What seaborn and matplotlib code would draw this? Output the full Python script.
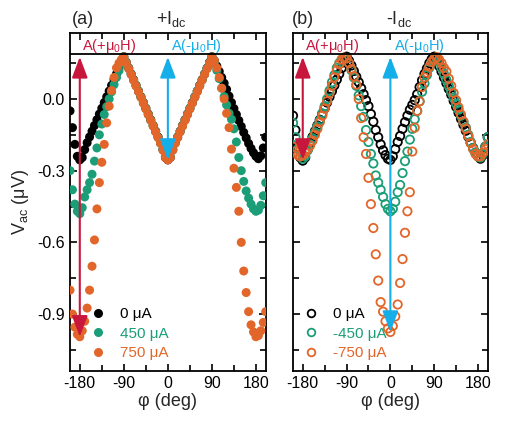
import numpy as np
import pandas as pd
import matplotlib
matplotlib.use("Agg")
import matplotlib.pyplot as plt
import seaborn as sns
from matplotlib.lines import Line2D
from matplotlib.ticker import MultipleLocator

# =========================
# Datos, phi cada 5 grados
# =========================
phi = list(range(-200, 201, 5))

# panel (a): +Idc
v_a_0 = [-0.05, -0.12, -0.19, -0.24, -0.255, -0.245, -0.212, -0.183, -0.159, -0.135,
         -0.111, -0.087, -0.063, -0.039, -0.015, 0.009, 0.033, 0.057, 0.081, 0.105,
         0.129, 0.153, 0.177, 0.153, 0.129, 0.105, 0.081, 0.057, 0.033, 0.009,
         -0.015, -0.039, -0.063, -0.087, -0.111, -0.135, -0.159, -0.183, -0.212, -0.245,
         -0.255, -0.245, -0.212, -0.183, -0.159, -0.135, -0.111, -0.087, -0.063, -0.039,
         -0.015, 0.009, 0.033, 0.057, 0.081, 0.105, 0.129, 0.153, 0.177, 0.160,
         0.138, 0.115, 0.090, 0.066, 0.040, 0.012, -0.015, -0.040, -0.065, -0.090,
         -0.115, -0.140, -0.163, -0.186, -0.207, -0.225, -0.240, -0.250, -0.238, -0.205,
         -0.160]
v_a_450 = [-0.30, -0.38, -0.44, -0.47, -0.48, -0.455, -0.41, -0.38, -0.35, -0.315,
           -0.26, -0.205, -0.15, -0.105, -0.065, -0.032, 0.0, 0.03, 0.06, 0.09,
           0.118, 0.148, 0.175, 0.152, 0.128, 0.104, 0.080, 0.056, 0.032, 0.008,
           -0.016, -0.040, -0.064, -0.088, -0.112, -0.136, -0.160, -0.184, -0.210, -0.240,
           -0.250, -0.240, -0.210, -0.184, -0.160, -0.136, -0.112, -0.088, -0.064, -0.040,
           -0.016, 0.008, 0.032, 0.056, 0.080, 0.104, 0.128, 0.152, 0.175, 0.150,
           0.120, 0.085, 0.045, 0.010, -0.025, -0.060, -0.085, -0.125, -0.180, -0.245,
           -0.300, -0.345, -0.385, -0.415, -0.440, -0.460, -0.470, -0.465, -0.445, -0.405,
           -0.350]
v_a_750 = [-0.80, -0.90, -0.955, -0.985, -0.995, -0.970, -0.930, -0.875, -0.800, -0.700,
           -0.590, -0.460, -0.350, -0.265, -0.190, -0.100, -0.030, 0.035, 0.090, 0.130,
           0.150, 0.165, 0.175, 0.150, 0.126, 0.102, 0.078, 0.054, 0.030, 0.006,
           -0.018, -0.042, -0.066, -0.090, -0.114, -0.138, -0.162, -0.186, -0.215, -0.245,
           -0.255, -0.245, -0.215, -0.186, -0.162, -0.138, -0.114, -0.090, -0.066, -0.042,
           -0.018, 0.006, 0.030, 0.054, 0.078, 0.102, 0.126, 0.150, 0.175, 0.160,
           0.130, 0.090, 0.045, 0.000, -0.060, -0.120, -0.210, -0.290, -0.370, -0.470,
           -0.600, -0.720, -0.810, -0.890, -0.945, -0.975, -0.995, -0.990, -0.970, -0.935,
           -0.890]

# panel (b): -Idc
v_b_0 = [-0.07, -0.13, -0.20, -0.245, -0.258, -0.245, -0.212, -0.183, -0.159, -0.135,
         -0.111, -0.087, -0.063, -0.039, -0.015, 0.009, 0.033, 0.057, 0.081, 0.105,
         0.129, 0.153, 0.177, 0.160, 0.140, 0.117, 0.093, 0.070, 0.045, 0.020,
         -0.005, -0.030, -0.063, -0.095, -0.130, -0.160, -0.190, -0.215, -0.235, -0.250,
         -0.255, -0.240, -0.210, -0.180, -0.155, -0.125, -0.097, -0.070, -0.045, -0.025,
         -0.005, 0.020, 0.050, 0.078, 0.105, 0.128, 0.150, 0.167, 0.177, 0.160,
         0.138, 0.115, 0.090, 0.066, 0.042, 0.018, -0.008, -0.033, -0.058, -0.083,
         -0.108, -0.133, -0.158, -0.183, -0.205, -0.225, -0.240, -0.250, -0.235, -0.200,
         -0.160]
v_b_450 = [-0.10, -0.16, -0.21, -0.24, -0.25, -0.24, -0.215, -0.19, -0.165, -0.14,
           -0.115, -0.09, -0.06, -0.03, 0.0, 0.035, 0.07, 0.10, 0.13, 0.15,
           0.165, 0.172, 0.17, 0.15, 0.12, 0.09, 0.055, 0.015, -0.03, -0.075,
           -0.13, -0.18, -0.23, -0.27, -0.32, -0.35, -0.38, -0.41, -0.44, -0.46,
           -0.47, -0.46, -0.43, -0.39, -0.36, -0.31, -0.26, -0.22, -0.17, -0.125,
           -0.085, -0.05, -0.01, 0.03, 0.065, 0.10, 0.13, 0.155, 0.168, 0.17,
           0.155, 0.13, 0.105, 0.08, 0.055, 0.03, 0.005, -0.02, -0.045, -0.07,
           -0.095, -0.12, -0.15, -0.18, -0.205, -0.225, -0.24, -0.245, -0.23, -0.20,
           -0.16]
v_b_750 = [-0.20, -0.22, -0.235, -0.24, -0.235, -0.225, -0.21, -0.195, -0.175, -0.15,
           -0.125, -0.097, -0.07, -0.04, -0.01, 0.025, 0.055, 0.09, 0.12, 0.145,
           0.165, 0.173, 0.17, 0.15, 0.125, 0.095, 0.06, 0.0, -0.08, -0.16,
           -0.23, -0.33, -0.44, -0.54, -0.65, -0.76, -0.85, -0.89, -0.93, -0.96,
           -0.975, -0.95, -0.91, -0.86, -0.77, -0.67, -0.56, -0.47, -0.39, -0.22,
           -0.12, -0.05, -0.01, 0.05, 0.09, 0.11, 0.135, 0.155, 0.168, 0.175,
           0.165, 0.15, 0.13, 0.115, 0.085, 0.055, 0.025, -0.005, -0.035, -0.065,
           -0.095, -0.125, -0.155, -0.185, -0.21, -0.23, -0.24, -0.24, -0.225, -0.21,
           -0.19]

etiquetas_a = ["0 μA", "450 μA", "750 μA"]
etiquetas_b = ["0 μA", "-450 μA", "-750 μA"]

df_a = pd.DataFrame({
    "phi": phi * 3,
    "V": v_a_0 + v_a_450 + v_a_750,
    "I": [etiquetas_a[0]] * len(phi) + [etiquetas_a[1]] * len(phi) + [etiquetas_a[2]] * len(phi),
})
df_b = pd.DataFrame({
    "phi": phi * 3,
    "V": v_b_0 + v_b_450 + v_b_750,
    "I": [etiquetas_b[0]] * len(phi) + [etiquetas_b[1]] * len(phi) + [etiquetas_b[2]] * len(phi),
})

# =========================
# Estilo
# =========================
sns.set_theme(style="ticks")
plt.rcParams["font.family"] = ["Liberation Sans", "DejaVu Sans"]
plt.rcParams["mathtext.fontset"] = "custom"
plt.rcParams["mathtext.rm"] = "Liberation Sans"
plt.rcParams["mathtext.it"] = "Liberation Sans:italic"
plt.rcParams["axes.unicode_minus"] = False

verde = "#1b9e77"
naranja = "#e2662a"
colores = ["black", verde, naranja]
rojo = "#c8173d"
celeste = "#14aee8"

ymin, ymax = -1.137, 0.276
y_banda = 0.188

fig = plt.figure(figsize=(5.08, 4.21), dpi=100)
ax_a = fig.add_axes([0.1378, 0.1195, 0.3853, 0.8021])
ax_b = fig.add_axes([0.5768, 0.1195, 0.3833, 0.8021])

# =========================
# Puntos
# =========================
sns.scatterplot(data=df_a, x="phi", y="V", hue="I", palette=colores, s=42,
                linewidth=0, legend=False, ax=ax_a, zorder=3)
sns.scatterplot(data=df_b, x="phi", y="V", hue="I", palette=colores, s=36,
                legend=False, ax=ax_b, zorder=3)
# circulos huecos en (b)
pc = ax_b.collections[-1]
pc.set_edgecolors(pc.get_facecolors())
pc.set_facecolors("none")
pc.set_linewidth(1.3)

# =========================
# Ejes
# =========================
for ax in (ax_a, ax_b):
    ax.set_xlim(-200, 200)
    ax.set_ylim(ymin, ymax)
    ax.xaxis.set_major_locator(MultipleLocator(90))
    ax.xaxis.set_minor_locator(MultipleLocator(45))
    ax.yaxis.set_major_locator(MultipleLocator(0.3))
    ax.yaxis.set_minor_locator(MultipleLocator(0.15))
    ax.tick_params(which="both", direction="in", top=True, right=True, width=1.2,
                   labelsize=11.5, color="black", labelcolor="black")
    ax.tick_params(which="major", length=5, pad=4)
    ax.tick_params(which="minor", length=4)
    for sp in ax.spines.values():
        sp.set_linewidth(1.3)
        sp.set_color("black")
    ax.axhline(y_banda, color="black", lw=1.3, zorder=4)
    ax.set_xlabel("φ (deg)", fontsize=13, labelpad=1)
    ax.set_ylabel("")

ax_a.yaxis.set_major_formatter(matplotlib.ticker.FormatStrFormatter("%.1f"))
ax_b.tick_params(labelleft=False)
ax_a.set_ylabel(r"V$_{\mathrm{ac}}$ (μV)", fontsize=13, labelpad=4)

# linea de la banda entre los dos paneles
y_fig = 0.1195 + 0.8021 * (y_banda - ymin) / (ymax - ymin)
fig.add_artist(Line2D([0.1378 + 0.3853, 0.5768], [y_fig, y_fig],
                      transform=fig.transFigure, color="black", lw=1.3))

# =========================
# Flechas y textos
# =========================
estilo = "<|-|>,head_length=0.85,head_width=0.32"
flechas = [(ax_a, -180, -0.995, rojo), (ax_a, 0, -0.255, celeste),
           (ax_b, -180, -0.255, rojo), (ax_b, 0, -0.975, celeste)]
for ax, x, yb, col in flechas:
    ax.annotate("", xy=(x, yb), xytext=(x, 0.176),
                arrowprops=dict(arrowstyle=estilo, color=col, lw=1.5,
                                shrinkA=0, shrinkB=0, mutation_scale=15),
                zorder=6)

for ax in (ax_a, ax_b):
    ax.text(-176, 0.205, r"A(+μ$_0$H)", color=rojo, fontsize=10.5, va="baseline")
    ax.text(7, 0.205, r"A(-μ$_0$H)", color=celeste, fontsize=10.5, va="baseline")

fig.text(72 / 508, 1 - 20 / 421, "(a)", fontsize=13, va="center", ha="left")
fig.text(171 / 508, 1 - 19 / 421, r"+I$_{\mathrm{dc}}$", fontsize=13, va="center", ha="center")
fig.text(292 / 508, 1 - 20 / 421, "(b)", fontsize=13, va="center", ha="left")
fig.text(399 / 508, 1 - 19 / 421, r"-I$_{\mathrm{dc}}$", fontsize=13, va="center", ha="center")

# =========================
# Leyendas
# =========================
h_a = [Line2D([], [], marker="o", ls="", color=c, markeredgewidth=0, markersize=6.5) for c in colores]
ax_a.legend(h_a, etiquetas_a, loc="lower left", bbox_to_anchor=(0.05, 0.0),
            frameon=False, labelcolor=colores, fontsize=11, handlelength=1.0,
            handletextpad=0.9, labelspacing=0.35, borderaxespad=0.3)
h_b = [Line2D([], [], marker="o", ls="", markerfacecolor="none", markeredgecolor=c,
              markeredgewidth=1.3, markersize=5.5) for c in colores]
ax_b.legend(h_b, etiquetas_b, loc="lower left", bbox_to_anchor=(0.0, 0.0),
            frameon=False, labelcolor=colores, fontsize=11, handlelength=1.0,
            handletextpad=0.9, labelspacing=0.35, borderaxespad=0.3)

fig.savefig("out.png", dpi=100)
